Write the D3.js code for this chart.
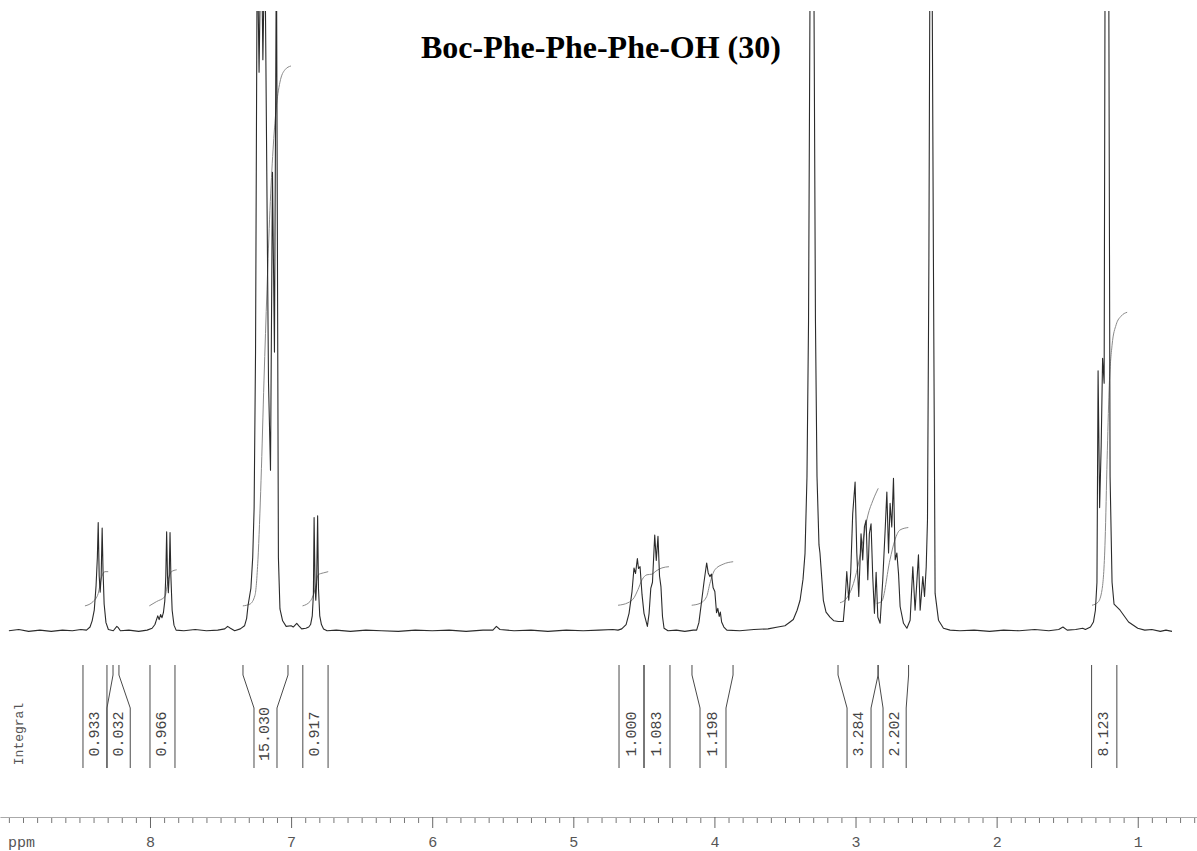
<!DOCTYPE html>
<html>
<head>
<meta charset="utf-8">
<script src="https://cdn.jsdelivr.net/npm/d3@7"></script>
<style>
  html, body { margin: 0; padding: 0; background: #fff; }
  svg { display: block; }
</style>
</head>
<body>
<svg id="chart" width="1197" height="851"></svg>
<script>
// ---- data -------------------------------------------------------------
const titleText = "Boc-Phe-Phe-Phe-OH (30)";
const axisUnit = "ppm";
const majorTicks = [8, 7, 6, 5, 4, 3, 2, 1];

// 1H spectrum trace: [chemical shift (ppm), intensity (% of full scale)]
const spectrum = [
  [9.00,0.2],[8.93,0.4],[8.86,0.1],[8.78,0.3],[8.70,0.1],[8.62,0.3],[8.55,0.2],[8.49,0.4],[8.45,0.3],
  [8.425,0.8],[8.41,1.8],[8.395,3.5],[8.382,7.5],[8.373,12],[8.367,17.6],[8.360,9],[8.353,6.4],[8.346,9],[8.339,16.7],[8.333,10],[8.325,4.5],[8.312,1.5],[8.295,0.4],
  [8.26,0.2],[8.235,0.9],[8.225,0.7],[8.21,0.2],[8.15,0.3],[8.08,0.1],[8.02,0.3],
  [7.985,0.6],[7.965,1.2],[7.955,1.9],[7.945,2.6],[7.935,2.0],[7.925,2.8],[7.915,2.3],[7.905,3.1],[7.895,5],[7.888,9],[7.882,16.1],[7.876,9],[7.870,6.3],[7.864,9],[7.858,16.0],[7.852,9],[7.843,3.5],[7.83,1.1],[7.815,0.3],
  [7.76,0.2],[7.68,0.4],[7.60,0.2],[7.52,0.3],[7.47,0.5],[7.45,0.9],[7.43,0.6],[7.40,0.2],[7.36,0.5],[7.33,1.0],
  [7.315,2.2],[7.305,4.3],[7.285,7],[7.272,12],[7.262,20],[7.252,45],[7.240,112],[7.227,90],[7.212,115],[7.200,92],[7.186,112],[7.160,40],[7.146,26],[7.132,73.9],[7.118,45],[7.104,112],[7.090,12],[7.079,3.7],[7.060,1.8],[7.035,0.9],[7.00,1.0],[6.985,0.8],[6.960,1.4],[6.945,1.0],[6.925,0.5],[6.895,0.6],[6.875,0.8],
  [6.862,1.2],[6.850,2.6],[6.842,6],[6.837,18.4],[6.830,7],[6.825,5.1],[6.819,8],[6.812,18.7],[6.806,7],[6.797,2.6],[6.785,1.2],[6.77,0.5],[6.745,0.2],
  [6.68,0.3],[6.58,0.1],[6.47,0.3],[6.36,0.2],[6.24,0.1],[6.12,0.3],[6.00,0.2],[5.88,0.3],[5.76,0.1],[5.64,0.3],[5.57,0.3],[5.545,0.9],[5.52,0.4],[5.42,0.2],[5.30,0.3],[5.18,0.1],[5.05,0.3],[4.93,0.2],[4.82,0.3],[4.72,0.4],[4.683,0.3],
  [4.657,0.5],[4.626,1.2],[4.605,3],[4.584,6.5],[4.570,10.3],[4.559,9.4],[4.546,11.8],[4.538,10.2],[4.527,10.5],[4.513,6],[4.499,3],[4.475,0.9],[4.463,3],[4.451,7],[4.439,8],[4.423,15.6],[4.412,11.5],[4.400,15.4],[4.389,9],[4.379,7.3],[4.368,2.5],[4.357,0.6],[4.329,0.2],[4.27,0.3],[4.21,0.1],[4.15,0.3],[4.126,0.3],
  [4.110,1.5],[4.091,4.9],[4.074,8],[4.055,11.1],[4.044,9.5],[4.032,8.9],[4.021,9.3],[4.009,7.1],[3.997,6.5],[3.985,3.1],[3.976,3.8],[3.966,2.5],[3.958,3.2],[3.949,1.6],[3.933,0.8],[3.912,0.3],
  [3.82,0.2],[3.72,0.4],[3.62,0.5],[3.55,0.8],[3.50,1.0],[3.464,1.6],[3.441,2.0],[3.414,3.5],[3.393,5.1],[3.372,8.5],[3.358,12.6],[3.344,25],[3.333,50],[3.323,100],[3.308,120],[3.294,100],[3.284,50],[3.273,25],[3.259,14],[3.252,12.7],[3.228,5.1],[3.209,3.2],[3.181,2.4],[3.153,1.8],[3.122,1.7],[3.087,1.7],
  [3.074,5.1],[3.062,9.7],[3.048,5.1],[3.034,9.6],[3.020,19.0],[3.003,24.1],[2.991,12.7],[2.977,5.7],[2.961,15.8],[2.949,11.6],[2.937,16.9],[2.925,18.0],[2.913,8.4],[2.902,15.8],[2.890,17.4],[2.878,8.9],[2.866,3.0],[2.854,9.6],[2.842,2.4],[2.826,1.4],
  [2.807,8.4],[2.790,16.4],[2.778,22.5],[2.766,12.7],[2.755,20.7],[2.743,16.9],[2.731,24.7],[2.719,11.6],[2.707,12.7],[2.695,9.3],[2.684,4.1],[2.660,1.4],[2.636,0.6],
  [2.613,1.9],[2.594,10.5],[2.578,3.5],[2.566,7.8],[2.554,12.4],[2.542,3.5],[2.523,8.9],[2.511,5.7],[2.499,10.5],[2.490,18.0],[2.480,60],[2.471,120],[2.460,120],[2.448,60],[2.436,6.2],[2.412,1.9],[2.377,0.6],[2.33,0.3],[2.26,0.2],
  [2.16,0.3],[2.05,0.1],[1.95,0.3],[1.84,0.2],[1.73,0.4],[1.63,0.2],[1.56,0.4],[1.53,0.8],[1.50,0.3],[1.44,0.4],[1.39,0.6],
  [1.371,0.4],[1.335,0.8],[1.314,1.6],[1.300,3.5],[1.289,8],[1.281,42],[1.270,20],[1.259,30],[1.249,44],[1.238,40],[1.231,112],[1.217,120],[1.206,112],[1.196,25],[1.182,8],[1.168,4.5],[1.125,3.5],[1.065,1.6],[1.00,0.6],[0.95,0.3],[0.90,0.4],[0.84,0.1],[0.80,0.3],[0.757,0.1]
];

// running integral traces, one per integrated region: [ppm, level]
const integralCurves = [
  [[8.461,4.2],[8.403,4.9],[8.367,6.2],[8.342,8.9],[8.319,9.7],[8.296,9.7]],
  [[8.005,4.2],[7.953,4.9],[7.894,5.7],[7.871,8.4],[7.848,9.7],[7.811,10.0]],
  [[7.342,4.2],[7.291,4.5],[7.256,5.9],[7.235,11.6],[7.213,24.4],[7.192,40.5],[7.171,55.0],[7.150,67.8],[7.128,77.5],[7.107,83.9],[7.079,88.4],[7.043,90.4],[7.001,91.0]],
  [[6.919,4.2],[6.866,4.9],[6.831,6.8],[6.808,9.2],[6.772,9.5],[6.737,9.7]],
  [[4.683,4.3],[4.613,4.7],[4.570,5.5],[4.542,6.8],[4.513,8.4],[4.478,9.2],[4.443,9.3],[4.414,9.8],[4.372,10.3],[4.322,10.5]],
  [[4.161,4.3],[4.102,4.6],[4.055,5.7],[4.032,7.8],[3.997,10.0],[3.938,10.9],[3.867,11.3]],
  [[3.110,4.7],[3.068,5.3],[3.025,7.1],[2.983,10.6],[2.947,14.8],[2.912,18.8],[2.876,21.2],[2.839,23.1]],
  [[2.850,4.6],[2.815,4.9],[2.756,11.6],[2.721,14.8],[2.685,16.4],[2.626,16.8]],
  [[1.324,4.3],[1.281,4.8],[1.253,6.8],[1.231,14.8],[1.217,27.7],[1.203,38.9],[1.182,46.1],[1.153,49.4],[1.117,50.8],[1.075,51.4]]
];

// integral values and the ppm edges of each region (at the region, at the label)
const integralValues = ["0.933","0.032","0.966","15.030","0.917","1.000","1.083","1.198","3.284","2.202","8.123"];
const regionEdges = [[8.475,8.305],[8.262,8.220],[8.000,7.823],[7.341,7.022],[6.917,6.738],[4.676,4.499],[4.499,4.315],[4.159,3.868],[3.124,2.840],[2.840,2.624],[1.327,1.148]];
const labelEdges  = [[8.475,8.305],[8.305,8.140],[8.000,7.823],[7.263,7.100],[6.917,6.738],[4.676,4.499],[4.499,4.315],[4.102,3.918],[3.060,2.890],[2.805,2.641],[1.327,1.148]];

// ---- layout -----------------------------------------------------------
const W = 1197, H = 851;
const baseY = 632, topY = 10;
const axisY = 817;
const brTop = 665, brBend1 = 675, brBend2 = 708, brBottom = 768, labelY = 734;

const svg = d3.select("#chart");
svg.append("rect").attr("width", W).attr("height", H).attr("fill", "#fff");

const x = d3.scaleLinear().domain([9.063, 0.58]).range([0, W]);
const y = d3.scaleLinear().domain([0, 100]).range([baseY, topY]);

svg.append("defs").append("clipPath").attr("id", "plotClip")
  .append("rect").attr("x", 0).attr("y", 11).attr("width", W).attr("height", 640);

const line = d3.line().x(d => x(d[0])).y(d => y(d[1]));

// integral traces (drawn first, light grey)
svg.append("g").attr("clip-path", "url(#plotClip)")
  .selectAll("path.integral").data(integralCurves).join("path")
  .attr("class", "integral")
  .attr("d", d3.line().x(d => x(d[0])).y(d => y(d[1])).curve(d3.curveMonotoneX))
  .attr("fill", "none").attr("stroke", "#8a8a8a").attr("stroke-width", 1);

// spectrum trace
svg.append("g").attr("clip-path", "url(#plotClip)")
  .append("path").datum(spectrum)
  .attr("d", line)
  .attr("fill", "none").attr("stroke", "#2b2b2b").attr("stroke-width", 1.1)
  .attr("stroke-linejoin", "round");

// title
svg.append("text").attr("x", 421).attr("y", 58)
  .attr("font-family", "'Liberation Serif', 'Times New Roman', serif")
  .attr("font-weight", "bold").attr("font-size", 32).attr("fill", "#000")
  .text(titleText);

// integral brackets
const brackets = svg.append("g").attr("fill", "none").attr("stroke", "#4a4a4a").attr("stroke-width", 1);
integralValues.forEach((val, i) => {
  const [rt0, rt1] = regionEdges[i];
  const [lb0, lb1] = labelEdges[i];
  [[rt0, lb0], [rt1, lb1]].forEach(([a, b]) => {
    brackets.append("path").attr("d",
      `M${x(a)},${brTop} L${x(a)},${brBend1} L${x(b)},${brBend2} L${x(b)},${brBottom}`);
  });
  const cx = (x(lb0) + x(lb1)) / 2;
  svg.append("text")
    .attr("transform", `translate(${cx + 0.5},${labelY}) rotate(-90)`)
    .attr("text-anchor", "middle").attr("dominant-baseline", "central")
    .attr("font-family", "'Liberation Mono', 'DejaVu Sans Mono', monospace")
    .attr("font-size", 15).attr("fill", "#444")
    .text(val);
});

svg.append("text")
  .attr("transform", `translate(19,${labelY}) rotate(-90)`)
  .attr("text-anchor", "middle").attr("dominant-baseline", "central")
  .attr("font-family", "'Liberation Mono', 'DejaVu Sans Mono', monospace")
  .attr("font-size", 13).attr("fill", "#555")
  .text("Integral");

// ppm axis
const minorTicks = d3.range(90, 5, -1).map(d => d / 10).filter(d => !majorTicks.includes(d));
const gMinor = svg.append("g").attr("transform", `translate(0,${axisY})`)
  .call(d3.axisBottom(x).tickValues(minorTicks).tickSize(6).tickFormat(""));
gMinor.select(".domain").remove();
gMinor.selectAll(".tick line").attr("stroke", "#777");

const gMajor = svg.append("g").attr("transform", `translate(0,${axisY})`)
  .call(d3.axisBottom(x).tickValues(majorTicks).tickSize(11).tickSizeOuter(0).tickPadding(8).tickFormat(d3.format("d")));
gMajor.select(".domain").attr("stroke", "#aaa").attr("d", `M${x(9.06)},0.5H${W}`);
gMajor.selectAll(".tick line").attr("stroke", "#666");
gMajor.selectAll(".tick text")
  .attr("font-family", "'Liberation Mono', 'DejaVu Sans Mono', monospace")
  .attr("font-size", 15).attr("fill", "#555");

svg.append("text").attr("x", 8).attr("y", 847)
  .attr("font-family", "'Liberation Mono', 'DejaVu Sans Mono', monospace")
  .attr("font-size", 15).attr("fill", "#555")
  .text(axisUnit);
</script>
</body>
</html>
